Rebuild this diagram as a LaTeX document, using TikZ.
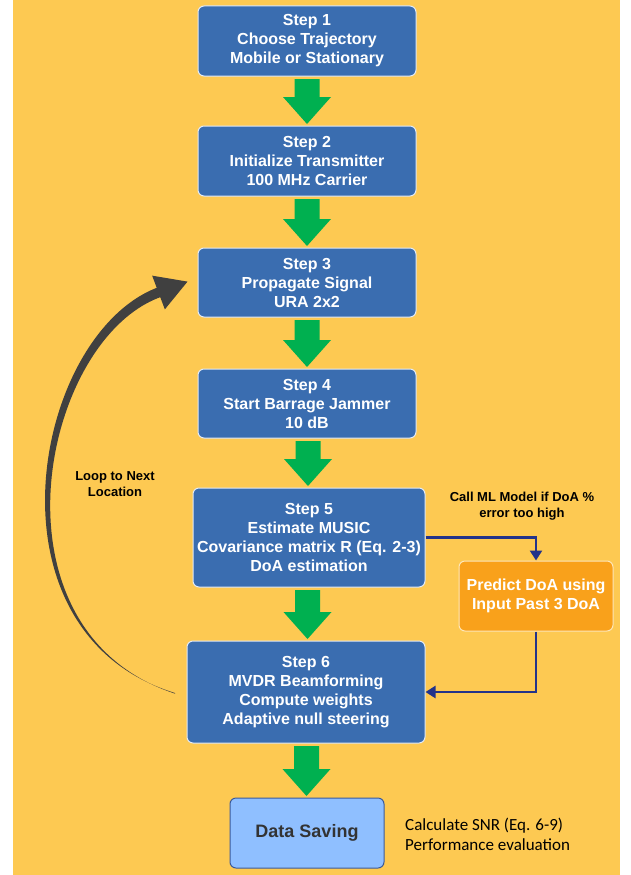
\documentclass[tikz,border=0pt]{standalone}
\usepackage{fontspec}
\setmainfont{Liberation Sans}
\newfontfamily\carlitofont{Carlito}
\usetikzlibrary{calc,arrows.meta}
\definecolor{bgorange}{HTML}{FDC952}
\definecolor{stepblue}{HTML}{3A6DB0}
\definecolor{boxedge}{HTML}{E3EAF4}
\definecolor{arrowgreen}{HTML}{00B050}
\definecolor{mlorange}{HTML}{F9A11B}
\definecolor{mledge}{HTML}{FDE6B8}
\definecolor{navyline}{HTML}{23338A}
\definecolor{dsblue}{HTML}{8FBFFF}
\definecolor{dsedge}{HTML}{3C5A9A}
\definecolor{loopgray}{HTML}{404040}
\definecolor{dstext}{HTML}{333333}
\newcommand{\greenarrow}[2]{%
  \fill[arrowgreen] let \p1=(#1.south), \p2=(#2.north), \n1={(\x1+\x2)/2} in
    ({\n1*1pt-12.5pt},{\y1-2.5pt}) -- ({\n1*1pt+12.5pt},{\y1-2.5pt})
    -- ({\n1*1pt+12.5pt},{\y2+28.5pt}) -- ({\n1*1pt+24pt},{\y2+28.5pt})
    -- ({\n1*1pt},{\y2+1.5pt})
    -- ({\n1*1pt-24pt},{\y2+28.5pt}) -- ({\n1*1pt-12.5pt},{\y2+28.5pt}) -- cycle;}
\begin{document}
\begin{tikzpicture}[x=1pt,y=-1pt,
  stepbox/.style={draw=boxedge, line width=1pt, fill=stepblue, rounded corners=6pt,
    text=white, font=\bfseries\fontsize{16}{19}\selectfont, align=center, inner sep=0pt},
  mlbox/.style={draw=mledge, line width=1pt, fill=mlorange, rounded corners=6pt,
    text=white, font=\bfseries\fontsize{16}{19}\selectfont, align=center, inner sep=0pt},
  dsbox/.style={draw=dsedge, line width=1pt, fill=dsblue, rounded corners=6pt,
    text=dstext, font=\bfseries\fontsize{18}{21}\selectfont, align=center, inner sep=0pt},
  notelabel/.style={font=\bfseries\fontsize{13}{15.5}\selectfont, align=center, text=black, inner sep=0pt},
  flowline/.style={draw=navyline, line width=2.5pt, -{Triangle[length=10pt,width=12pt]}}
]
\fill[white] (0,0) rectangle (630,875);
\fill[bgorange] (13,0) rectangle (620,875);
\useasboundingbox (0,0) rectangle (630,875);

% loop arrow (tapered)
\fill[loopgray] (175,693) .. controls (-22.25,632.3) and (32.8,335.9) .. (156.73,287.82)
  -- (152.15,275.65) -- (187.5,281.6) -- (164.85,309.35) -- (160.27,297.18)
  .. controls (40.8,340.9) and (-17.25,630.7) .. (175,693.6) -- cycle;

\node[stepbox, minimum width=218, minimum height=70] (s1) at (307,41) {Step 1\\Choose Trajectory\\Mobile or Stationary};
\node[stepbox, minimum width=218, minimum height=70] (s2) at (307,161) {Step 2\\Initialize Transmitter\\100 MHz Carrier};
\node[stepbox, minimum width=218, minimum height=69] (s3) at (307,282.5) {Step 3\\Propagate Signal\\URA 2x2};
\node[stepbox, minimum width=218, minimum height=69] (s4) at (307,403.5) {Step 4\\Start Barrage Jammer\\10 dB};
\node[stepbox, minimum width=232, minimum height=99] (s5) at (309,537.5) {Step 5\\Estimate MUSIC\\Covariance matrix R (Eq. 2-3)\\DoA estimation};
\node[stepbox, minimum width=238, minimum height=102] (s6) at (306,692) {Step 6\\MVDR Beamforming\\Compute weights\\Adaptive null steering};
\node[mlbox, minimum width=154, minimum height=70] (ml) at (536,596) {Predict DoA using\\Input Past 3 DoA};
\node[dsbox, minimum width=154, minimum height=70] (ds) at (307,833) {Data Saving};

\greenarrow{s1}{s2}
\greenarrow{s2}{s3}
\greenarrow{s3}{s4}
\greenarrow{s4}{s5}
\greenarrow{s5}{s6}
\greenarrow{s6}{ds}

\draw[flowline] (s5.east) -| (ml.north);
\draw[flowline] (ml.south) |- (s6.east);

\node[notelabel] (loop) at (115,484) {Loop to Next\\Location};
\node[notelabel] (mlnote) at (522,506) {Call ML Model if DoA \%\\error too high};
\node[anchor=west, font=\carlitofont\fontsize{17}{20}\selectfont, align=left, text=black, inner sep=0pt] (dsnote) at (405,834) {Calculate SNR (Eq. 6-9)\\Performance evaluation};
\end{tikzpicture}
\end{document}
